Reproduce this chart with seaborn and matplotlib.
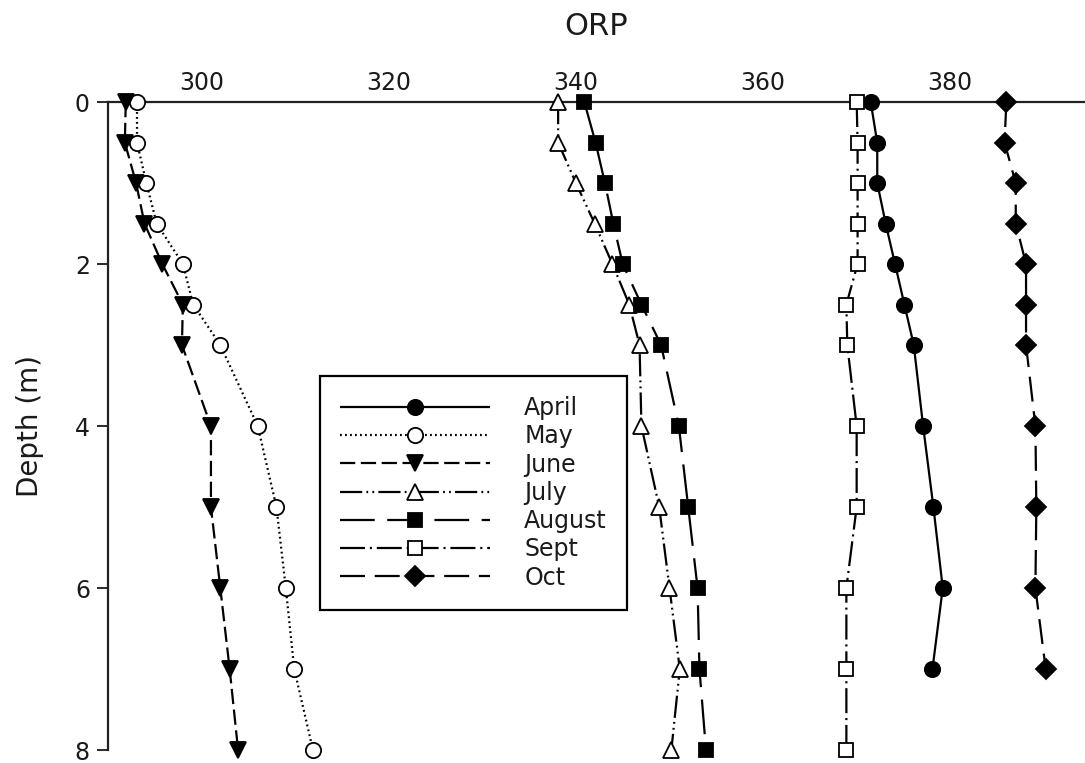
import matplotlib
matplotlib.use("Agg")
import matplotlib.pyplot as plt
import seaborn as sns
import pandas as pd

# Depth profiles of ORP (mV) by month
depth_full = [0, 0.5, 1, 1.5, 2, 2.5, 3, 4, 5, 6, 7, 8]
depth_short = [0, 0.5, 1, 1.5, 2, 2.5, 3, 4, 5, 6, 7]

april = [371.5, 372.2, 372.2, 373.1, 374.1, 375.1, 376.1, 377.1, 378.2, 379.2, 378.1]
may = [293.1, 293.1, 294.1, 295.2, 298.0, 299.1, 302.0, 306.0, 308.0, 309.0, 309.9, 311.9]
june = [291.9, 291.8, 293.0, 293.9, 295.8, 298.0, 297.9, 301.0, 301.0, 302.0, 303.0, 303.9]
july = [338.1, 338.1, 340.0, 342.0, 343.9, 345.7, 346.8, 347.0, 348.9, 350.0, 351.1, 350.2]
august = [340.9, 342.1, 343.1, 344.0, 345.0, 347.0, 349.1, 351.0, 352.0, 353.0, 353.2, 353.9]
sept = [370.0, 370.1, 370.1, 370.1, 370.1, 368.9, 369.0, 370.0, 370.0, 368.9, 368.9, 368.9]
october = [386.0, 385.8, 387.0, 387.0, 388.1, 388.1, 388.1, 389.1, 389.2, 389.1, 390.2]

months = ["April", "May", "June", "July", "August", "Sept", "Oct"]
x_ticks = [300, 320, 340, 360, 380]
y_ticks = [0, 2, 4, 6, 8]

sns.set_style("white")
plt.rcParams["font.family"] = ["DejaVu Sans"]
plt.rcParams["lines.scale_dashes"] = False
plt.rcParams["text.color"] = "#1a1a1a"
plt.rcParams["xtick.color"] = "#1a1a1a"
plt.rcParams["ytick.color"] = "#1a1a1a"
plt.rcParams["axes.labelcolor"] = "#1a1a1a"

series = [
    ("April", depth_short, april, "o", "black", (0, ()), 11),
    ("May", depth_full, may, "o", "white", (0, (1.3, 2.3)), 11),
    ("June", depth_full, june, "v", "black", (0, (11, 4)), 11.5),
    ("July", depth_full, july, "^", "white", (0, (16, 3, 1.3, 3, 1.3, 3)), 11.5),
    ("August", depth_full, august, "s", "black", (0, (25, 9)), 10.5),
    ("Sept", depth_full, sept, "s", "white", (0, (18, 3.5, 1.5, 3.5)), 10.5),
    ("Oct", depth_short, october, "D", "black", (0, (18, 7)), 10.5),
]

fig = plt.figure(figsize=(10.85, 7.63), dpi=100)
ax = fig.add_axes([108 / 1085, 13 / 763, 977 / 1085, 648 / 763])

for name, depth, orp, marker, face, dash, ms in series:
    df = pd.DataFrame({"ORP": orp, "Depth": depth})
    sns.lineplot(
        data=df, x="ORP", y="Depth", orient="y", sort=False, estimator=None,
        errorbar=None, ax=ax, color="black", linewidth=1.6, linestyle=dash,
        marker=marker, markersize=ms, markerfacecolor=face,
        markeredgecolor="black", markeredgewidth=1.3, clip_on=False,
        zorder=3, label=name,
    )

ax.set_xlim(290, 394.4)
ax.set_ylim(8, 0)
ax.set_xticks(x_ticks)
ax.set_yticks(y_ticks)
ax.set_yticklabels([str(v) for v in y_ticks])

ax.xaxis.set_label_position("top")
ax.xaxis.tick_top()
ax.tick_params(axis="x", length=0, pad=5, labelsize=17, labeltop=True, labelbottom=False)
ax.tick_params(axis="y", direction="out", length=8, width=1.3, pad=5, labelsize=17, left=True)
ax.set_xlabel("ORP", fontsize=22, labelpad=26)
ax.set_ylabel("Depth (m)", fontsize=20, labelpad=22)

for side in ["right", "bottom"]:
    ax.spines[side].set_visible(False)
for side in ["left", "top"]:
    ax.spines[side].set_color("#222222")
    ax.spines[side].set_linewidth(1.6)
    ax.spines[side].set_zorder(2.5)

leg = ax.legend(
    loc="upper left", bbox_to_anchor=(0.217, 0.577), borderaxespad=0,
    fontsize=17, handlelength=6.35, handletextpad=1.45, labelspacing=0.18,
    borderpad=0.85, numpoints=1, fancybox=False, frameon=True,
)
leg.get_frame().set_edgecolor("black")
leg.get_frame().set_linewidth(1.6)
leg.get_frame().set_alpha(1)

fig.savefig("out.png", dpi=100)
